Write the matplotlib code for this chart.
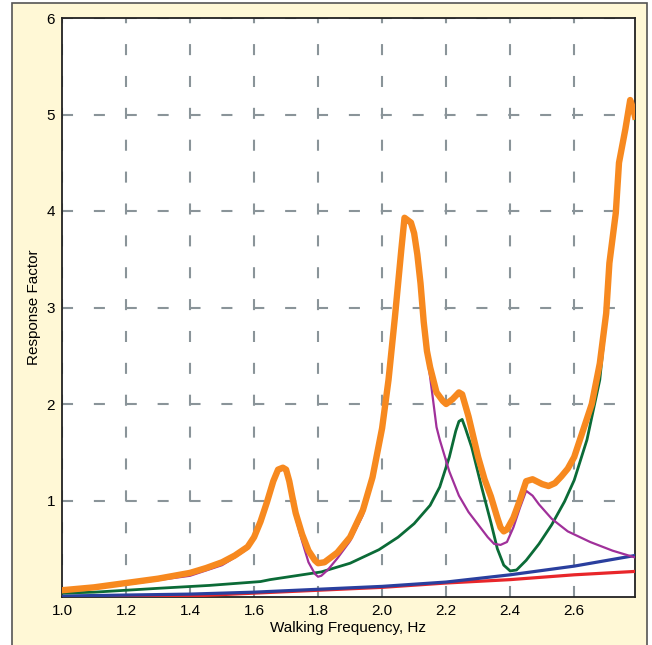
import matplotlib
matplotlib.use("Agg")
import matplotlib.pyplot as plt
from matplotlib.patches import Rectangle

plt.rcParams['font.family'] = ['Liberation Sans', 'DejaVu Sans']

# total response (orange)
f_total = [1.0, 1.1, 1.2, 1.3, 1.4, 1.45, 1.5, 1.54, 1.58, 1.60, 1.62, 1.64, 1.66, 1.675, 1.69,
           1.70, 1.71, 1.72, 1.73, 1.75, 1.77, 1.79, 1.80, 1.82, 1.84, 1.86, 1.90, 1.94, 1.97,
           2.0, 2.02, 2.04, 2.06, 2.07, 2.09, 2.10, 2.11, 2.12, 2.13, 2.14, 2.15, 2.17, 2.19,
           2.20, 2.22, 2.24, 2.25, 2.27, 2.30, 2.32, 2.34, 2.36, 2.37, 2.38, 2.39, 2.41, 2.43,
           2.45, 2.47, 2.50, 2.52, 2.54, 2.56, 2.58, 2.60, 2.63, 2.655, 2.68, 2.70, 2.71, 2.73,
           2.74, 2.76, 2.775, 2.785, 2.79]
r_total = [0.07, 0.10, 0.145, 0.19, 0.25, 0.30, 0.36, 0.43, 0.52, 0.62, 0.78, 0.98, 1.2, 1.32, 1.34,
           1.32, 1.2, 1.03, 0.87, 0.65, 0.48, 0.38, 0.35, 0.36, 0.41, 0.46, 0.62, 0.9, 1.24,
           1.75, 2.25, 2.9, 3.6, 3.93, 3.88, 3.77, 3.55, 3.25, 2.85, 2.55, 2.38, 2.12, 2.03,
           2.0, 2.05, 2.12, 2.1, 1.87, 1.45, 1.22, 1.04, 0.82, 0.72, 0.68, 0.70, 0.82, 1.0,
           1.2, 1.22, 1.17, 1.15, 1.18, 1.25, 1.33, 1.45, 1.75, 2.0, 2.42, 2.94, 3.46, 3.98,
           4.5, 4.85, 5.15, 5.05, 4.98]

# mode 1 (magenta)
f_mode1 = [1.0, 1.2, 1.4, 1.5, 1.54, 1.58, 1.60, 1.62, 1.64, 1.66, 1.675, 1.69, 1.70, 1.71, 1.72,
           1.73, 1.75, 1.77, 1.79, 1.80, 1.81, 1.83, 1.86, 1.90, 1.94, 1.97, 2.0, 2.02, 2.04,
           2.06, 2.07, 2.09, 2.10, 2.11, 2.12, 2.13, 2.14, 2.15, 2.17, 2.18, 2.21, 2.24, 2.27,
           2.30, 2.33, 2.35, 2.37, 2.39, 2.41, 2.43, 2.45, 2.47, 2.49, 2.53, 2.58, 2.65, 2.72,
           2.78, 2.79]
r_mode1 = [0.06, 0.13, 0.22, 0.33, 0.41, 0.5, 0.6, 0.75, 0.95, 1.17, 1.3, 1.32, 1.3, 1.18, 1.0,
           0.82, 0.58, 0.36, 0.24, 0.21, 0.22, 0.28, 0.4, 0.58, 0.85, 1.2, 1.72, 2.22, 2.88,
           3.58, 3.9, 3.86, 3.74, 3.5, 3.2, 2.8, 2.5, 2.28, 1.76, 1.63, 1.3, 1.05, 0.88,
           0.75, 0.62, 0.55, 0.54, 0.57, 0.72, 0.92, 1.1, 1.05, 0.96, 0.81, 0.68, 0.57, 0.48,
           0.42, 0.41]

# mode 2 (green)
f_mode2 = [1.0, 1.1, 1.3, 1.46, 1.62, 1.65, 1.81, 1.9, 1.99, 2.05, 2.1, 2.15, 2.18, 2.21, 2.23,
           2.24, 2.25, 2.26, 2.28, 2.31, 2.34, 2.36, 2.38, 2.40, 2.42, 2.45, 2.49, 2.53, 2.57,
           2.60, 2.64, 2.68, 2.70, 2.71, 2.73, 2.74, 2.76, 2.775, 2.785, 2.79]
r_mode2 = [0.04, 0.05, 0.09, 0.12, 0.16, 0.18, 0.26, 0.35, 0.49, 0.62, 0.76, 0.95, 1.14, 1.45, 1.72,
           1.82, 1.84, 1.75, 1.55, 1.15, 0.77, 0.5, 0.33, 0.27, 0.28, 0.38, 0.55, 0.75, 0.99,
           1.21, 1.63, 2.25, 2.9, 3.42, 3.95, 4.47, 4.82, 5.1, 5.0, 4.95]

# mode 3 (blue) and mode 4 (red)
f_mode3 = [1.0, 1.4, 1.6, 1.8, 2.0, 2.2, 2.4, 2.6, 2.79]
r_mode3 = [0.01, 0.03, 0.05, 0.08, 0.11, 0.155, 0.23, 0.32, 0.43]
f_mode4 = [1.0, 1.4, 1.6, 1.8, 2.0, 2.2, 2.4, 2.6, 2.79]
r_mode4 = [0.0, 0.01, 0.04, 0.07, 0.10, 0.145, 0.18, 0.23, 0.265]

x_ticks = [1.0, 1.2, 1.4, 1.6, 1.8, 2.0, 2.2, 2.4, 2.6]
y_ticks = [1, 2, 3, 4, 5, 6]

fig = plt.figure(figsize=(6.52, 6.45), dpi=100, facecolor='white')
fig.patches.append(Rectangle((12/652, -0.01), 635/652, 1.0 - 3/645 + 0.01, transform=fig.transFigure,
                             facecolor='#FFF8D6', edgecolor='#555555', linewidth=1.2, zorder=-5))
ax = fig.add_axes([62/652, 48/645, 573/652, 579/645])
ax.set_facecolor('white')

ax.plot(f_mode4, r_mode4, color='#E8262A', lw=2.3, zorder=3)
ax.plot(f_mode3, r_mode3, color='#2A3F9E', lw=2.3, zorder=3)
ax.plot(f_mode2, r_mode2, color='#0B6B37', lw=2.0, zorder=4)
ax.plot(f_mode1, r_mode1, color='#A0309A', lw=1.6, zorder=4)
ax.plot(f_total, r_total, color='#F7891F', lw=4.6, zorder=5, solid_joinstyle='round')

ax.set_xlim(1.0, 2.79)
ax.set_ylim(0, 6)
ax.set_xticks(x_ticks)
ax.set_xticklabels(['%.1f' % v for v in x_ticks])
ax.set_yticks(y_ticks)
ax.set_yticklabels([str(v) for v in y_ticks])
ax.tick_params(length=0, labelsize=11, pad=5)
ax.grid(True, color='#8A9499', lw=1.5, linestyle=(0, (5.3, 10)))
ax.set_axisbelow(True)
for s in ax.spines.values():
    s.set_linewidth(1.3)
    s.set_color('#222222')

ax.set_xlabel('Walking Frequency, Hz', fontsize=11, labelpad=2)
ax.set_ylabel('Response Factor', fontsize=11, labelpad=4)

fig.savefig('out.png', dpi=100)
